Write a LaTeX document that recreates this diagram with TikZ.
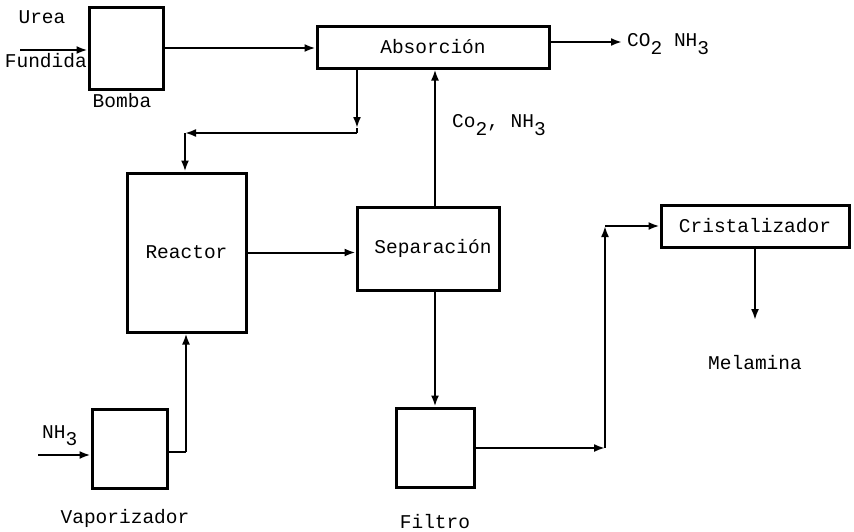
\documentclass[tikz,border=0pt]{standalone}
\usepackage{fontspec}
\setmainfont{Liberation Mono}
\usetikzlibrary{arrows.meta}
\newcommand{\dn}[1]{\raisebox{-0.7ex}{#1}}
\begin{document}
\begin{tikzpicture}[x=1pt,y=-1pt,
  box/.style={draw, line width=3pt, inner sep=0pt, font=\fontsize{19.5}{21}\selectfont},
  lbl/.style={inner sep=0pt, font=\fontsize{19.5}{21}\selectfont},
  conn/.style={line width=2pt},
  arr/.style={conn, -{Latex[length=11pt,width=8pt]}}]
\useasboundingbox (0,0) rectangle (854,531);
% boxes
\node[box, minimum width=74pt, minimum height=82pt] (bomba) at (126,48) {};
\node[box, minimum width=232pt, minimum height=42pt] (absorcion) at (433,47) {Absorción};
\node[box, minimum width=119pt, minimum height=159pt] (reactor) at (186.5,252.5) {Reactor};
\node[box, minimum width=142pt, minimum height=83pt] (separacion) at (428,248.5) {\hspace*{10pt}Separación};
\node[box, minimum width=78pt, minimum height=79pt] (filtro) at (435,447.5) {};
\node[box, minimum width=75pt, minimum height=79pt] (vaporizador) at (129.5,448.5) {};
\node[box, minimum width=188pt, minimum height=42pt] (cristalizador) at (755,226) {Cristalizador};
% labels
\node[lbl] (urea) at (42,17) {Urea};
\node[lbl, anchor=east] (fundida) at (87,61) {Fundida};
\node[lbl] (lbomba) at (122,101) {Bomba};
\node[lbl, anchor=west] (lco2) at (627,44) {CO\dn{2} NH\dn{3}};
\node[lbl, anchor=west] (lco2b) at (452,125) {Co\dn{2}, NH\dn{3}};
\node[lbl, anchor=west] (lnh3) at (42,436) {NH\dn{3}};
\node[lbl] (lvap) at (125,518) {Vaporizador};
\node[lbl] (lfiltro) at (435,522) {Filtro};
\node[lbl] (melamina) at (755,363) {Melamina};
% coordinates
\coordinate (ureain) at (20,50);
\coordinate (co2out) at (622,42);
\coordinate (j1a) at (357,128);
\coordinate (j1) at (357,133);
\coordinate (j2) at (185,133);
\coordinate (j3) at (605,448);
\coordinate (j4) at (605,226);
\coordinate (melout) at (755,320);
\coordinate (nh3in) at (38,455);
\coordinate (j5) at (186,452);
% connectors
\draw[arr] (ureain) -- (ureain -| bomba.west);
\draw[arr] (bomba.east) -- (bomba.east -| absorcion.west);
\draw[arr] (absorcion.east |- co2out) -- (co2out);
\draw[arr] (absorcion.south -| j1a) -- (j1a);
\draw[conn] (j1a) -- (j1);
\draw[arr] (j1) -- (j2);
\draw[arr] (j2) -- (j2 |- reactor.north);
\draw[arr] (reactor.east) -- (reactor.east -| separacion.west);
\draw[arr] ([xshift=7pt]separacion.north) -- ([xshift=7pt]separacion.north |- absorcion.south);
\draw[arr] (filtro.north |- separacion.south) -- (filtro.north);
\draw[arr] (filtro.east |- j3) -- (j3);
\draw[arr] (j3) -- (j4);
\draw[arr] (j4) -- (cristalizador.west);
\draw[arr] (cristalizador.south) -- (melout);
\draw[arr] (nh3in) -- (nh3in -| vaporizador.west);
\draw[conn] (vaporizador.east |- j5) -- (j5);
\draw[arr] (j5) -- (j5 |- reactor.south);
\end{tikzpicture}
\end{document}
